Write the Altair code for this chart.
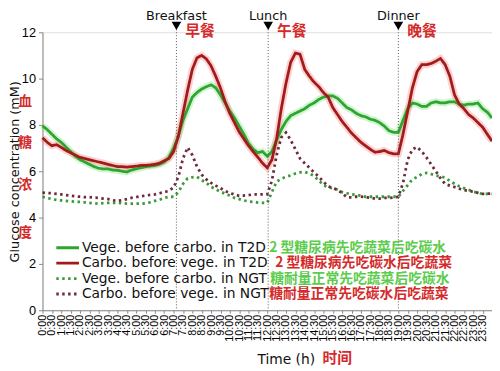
import altair as alt
import pandas as pd

# time grid (hours), every 15 minutes from 0:00 to 24:00
hours = [i * 0.25 for i in range(97)]

veg_t2d = [7.96, 7.8, 7.6, 7.4, 7.25, 7.05, 6.85, 6.65, 6.5, 6.4, 6.3, 6.2,
           6.13, 6.1, 6.1, 6.05, 6.04, 6.0, 5.97, 6.05, 6.1, 6.15, 6.2, 6.22,
           6.25, 6.3, 6.4, 6.6, 7.0, 7.5, 8.2, 8.7, 9.2, 9.4, 9.55, 9.65,
           9.73, 9.6, 9.3, 8.95, 8.6, 8.3, 7.95, 7.6, 7.2, 6.95, 6.8, 6.85,
           6.65, 6.85, 7.35, 7.8, 8.15, 8.4, 8.5, 8.6, 8.7, 8.85, 8.95, 9.1,
           9.2, 9.25, 9.25, 9.15, 8.95, 8.75, 8.65, 8.5, 8.4, 8.35, 8.25, 8.2,
           8.1, 7.95, 7.75, 7.68, 7.68, 8.2, 8.7, 8.95, 8.9, 8.8, 8.8, 8.95,
           9.0, 8.95, 8.95, 9.0, 9.0, 8.9, 8.85, 8.9, 8.9, 8.95, 8.7, 8.55,
           8.3]

carb_t2d = [7.45, 7.25, 7.1, 7.15, 7.03, 6.9, 6.8, 6.7, 6.6, 6.55, 6.5, 6.45,
            6.4, 6.35, 6.3, 6.25, 6.2, 6.2, 6.18, 6.2, 6.22, 6.25, 6.25, 6.27,
            6.3, 6.35, 6.45, 6.55, 6.85, 7.5, 8.5, 9.5, 10.4, 10.9, 11.0, 10.85,
            10.55, 10.1, 9.6, 9.0, 8.5, 8.1, 7.7, 7.4, 7.1, 6.85, 6.6, 6.35,
            6.15, 6.5, 7.4, 8.7, 9.8, 10.7, 11.1, 11.05, 10.4, 10.1, 9.85, 9.65,
            9.4, 9.2, 8.75, 8.45, 8.15, 7.9, 7.65, 7.45, 7.25, 7.1, 6.95, 6.82,
            6.85, 6.9, 6.8, 6.75, 6.75, 7.6, 8.6, 9.6, 10.3, 10.6, 10.6, 10.65,
            10.75, 10.87, 10.6, 10.1, 9.3, 8.9, 8.7, 8.45, 8.3, 8.1, 7.9, 7.6,
            7.3]

veg_ngt = [4.9, 4.85, 4.8, 4.76, 4.74, 4.72, 4.7, 4.68, 4.68, 4.66, 4.64, 4.62,
           4.6, 4.62, 4.64, 4.64, 4.64, 4.62, 4.6, 4.6, 4.6, 4.6, 4.62, 4.66,
           4.72, 4.77, 4.85, 4.9, 4.9, 5.1, 5.45, 5.7, 5.74, 5.76, 5.62, 5.5,
           5.33, 5.22, 5.12, 5.03, 4.95, 4.85, 4.8, 4.74, 4.7, 4.68, 4.65, 4.64,
           4.64, 5.1, 5.55, 5.68, 5.76, 5.82, 5.9, 5.95, 5.97, 5.9, 5.8, 5.6,
           5.4, 5.3, 5.27, 5.2, 5.1, 5.05, 5.0, 4.98, 4.94, 4.9, 4.9, 4.9,
           4.9, 4.9, 4.9, 4.9, 4.9, 5.15, 5.4, 5.65, 5.75, 5.88, 5.93, 5.88,
           5.82, 5.78, 5.72, 5.58, 5.46, 5.35, 5.27, 5.2, 5.12, 5.07, 5.02, 5.02,
           5.02]

carb_ngt = [5.08, 5.06, 5.05, 5.02, 5.0, 4.97, 4.95, 4.92, 4.9, 4.88, 4.88, 4.86,
            4.85, 4.82, 4.8, 4.75, 4.72, 4.75, 4.8, 4.85, 4.88, 4.92, 4.95, 4.98,
            5.0, 5.05, 5.1, 5.15, 5.3, 5.75, 6.55, 7.03, 6.7, 6.2, 5.85, 5.65,
            5.5, 5.38, 5.27, 5.15, 5.06, 5.0, 4.94, 4.95, 4.97, 5.0, 5.0, 5.0,
            5.0, 5.6, 6.7, 7.46, 7.67, 7.35, 6.95, 6.55, 6.35, 6.15, 5.95, 5.76,
            5.55, 5.35, 5.28, 5.2, 5.05, 4.88, 4.87, 4.9, 4.9, 4.88, 4.85, 4.82,
            4.82, 4.85, 4.85, 4.87, 4.9, 5.5, 6.5, 6.95, 7.05, 6.85, 6.6, 6.3,
            6.0, 5.7, 5.45, 5.38, 5.32, 5.25, 5.19, 5.15, 5.12, 5.07, 5.02, 5.03,
            5.04]

series_names = ["Vege. before carbo. in T2D", "Carbo. before vege. in T2D",
                "Vege. before carbo. in NGT", "Carbo. before vege. in NGT"]
series_values = [veg_t2d, carb_t2d, veg_ngt, carb_ngt]
series_colors = ["#2ea52e", "#a01c1c", "#3a9a3a", "#6e2a3a"]
halo_colors = ["#7fe07f", "#ff7a7a", None, None]
series_dash = [[1, 0], [1, 0], [2.5, 3.5], [2.5, 3.5]]
cn_labels = ["2 型糖尿病先吃蔬菜后吃碳水", "2 型糖尿病先吃碳水后吃蔬菜",
             "糖耐量正常先吃蔬菜后吃碳水", "糖耐量正常先吃碳水后吃蔬菜"]
cn_colors = ["#5ccc4c", "#d42a2a", "#5ccc4c", "#d42a2a"]

meals = ["Breakfast", "Lunch", "Dinner"]
meals_cn = ["早餐", "午餐", "晚餐"]
meal_hours = [7.15, 12.05, 19.0]

y_ticks = [0, 2, 4, 6, 8, 10, 12]
x_ticks = [i * 0.5 for i in range(48)]
y_cn = ["血", "糖", "浓", "度"]
y_cn_pos = [9.0, 7.2, 5.4, 3.35]

rows = []
for name, vals in zip(series_names, series_values):
    for h, v in zip(hours, vals):
        rows.append({"hour": h, "glucose": v, "series": name})
df = pd.DataFrame(rows)

W, H = 456, 282
EN = "DejaVu Sans"
CJK = "Noto Sans CJK SC"

x_enc = alt.X("hour:Q", scale=alt.Scale(domain=[0, 24], nice=False, zero=False),
              axis=alt.Axis(values=x_ticks, labelAngle=-90, title=None,
                            labelExpr="floor(datum.value) + ':' + (datum.value % 1 ? '30' : '00')",
                            labelFontSize=11, tickSize=3, labelPadding=1,
                            grid=False, labelFlush=False, labelOverlap=False))
y_enc = alt.Y("glucose:Q", scale=alt.Scale(domain=[0, 12], nice=False),
              axis=alt.Axis(values=y_ticks, title="Glucose concentration (mM)",
                            titleX=-24, titleY=H / 2, titleBaseline="alphabetic",
                            titleFontSize=13, titleFontWeight="normal", titleFont=EN,
                            titleColor="#111", labelFontSize=13, tickSize=4,
                            labelPadding=3, grid=False))

layers = []
# soft halo under the solid curves
for name, hc in zip(series_names, halo_colors):
    if hc is None:
        continue
    layers.append(alt.Chart(df).transform_filter(alt.datum.series == name)
                  .mark_line(strokeWidth=7, opacity=0.35, color=hc)
                  .encode(x=x_enc, y=y_enc))

leg = alt.Legend(title=None, orient="none", legendX=12.5, legendY=211,
                 symbolType="stroke", symbolSize=529, symbolStrokeWidth=3,
                 clipHeight=15, rowPadding=0.7, labelFontSize=14, labelFont=EN,
                 labelColor="#111", labelOffset=1.5, padding=0, labelLimit=400)

lines = alt.Chart(df).mark_line(strokeWidth=2.8).encode(
    x=x_enc, y=y_enc,
    color=alt.Color("series:N", scale=alt.Scale(domain=series_names, range=series_colors),
                    legend=leg, sort=series_names),
    strokeDash=alt.StrokeDash("series:N", scale=alt.Scale(domain=series_names, range=series_dash),
                              legend=leg, sort=series_names),
)
layers.append(lines)

meal_df = pd.DataFrame({"hour": meal_hours, "meal": meals, "cn": meals_cn})
layers.append(alt.Chart(meal_df).mark_rule(color="#555", strokeWidth=1, strokeDash=[1, 2]).encode(
    x=x_enc, y=alt.value(-3), y2=alt.value(H)))
layers.append(alt.Chart(meal_df).mark_point(shape="triangle-down", filled=True, size=95,
                                             color="#000", opacity=1).encode(
    x=x_enc, y=alt.value(-6.5)))
layers.append(alt.Chart(meal_df).mark_text(font=EN, fontSize=13, color="#111",
                                            baseline="top").encode(
    x=x_enc, y=alt.value(-22), text="meal:N"))
layers.append(alt.Chart(meal_df).mark_text(font=CJK, fontSize=15, fontWeight="bold",
                                            color="#d42a2a", align="left", dx=9).encode(
    x=x_enc, y=alt.value(-1.5), text="cn:N"))

ycn_df = pd.DataFrame({"glucose": y_cn_pos, "ch": y_cn})
layers.append(alt.Chart(ycn_df).mark_text(font=CJK, fontSize=14, fontWeight="bold",
                                           color="#d42a2a").encode(
    x=alt.value(-17.5), y=y_enc, text="ch:N"))

cn_x = [230, 236, 231, 230]
cn_y = [218.5, 234.2, 249.9, 265.5]
for txt, col, px, py in zip(cn_labels, cn_colors, cn_x, cn_y):
    layers.append(alt.Chart(pd.DataFrame({"t": [txt]})).mark_text(
        font=CJK, fontSize=14, fontWeight="bold", color=col, align="left").encode(
        x=alt.value(px), y=alt.value(py), text="t:N"))

layers.append(alt.Chart(pd.DataFrame({"t": ["Time (h)"]})).mark_text(
    font=EN, fontSize=14, color="#111", align="left").encode(
    x=alt.value(218), y=alt.value(333), text="t:N"))
layers.append(alt.Chart(pd.DataFrame({"t": ["时间"]})).mark_text(
    font=CJK, fontSize=15, fontWeight="bold", color="#d42a2a", align="left").encode(
    x=alt.value(284), y=alt.value(331), text="t:N"))

chart = alt.layer(*layers).properties(
    width=W, height=H,
    autosize=alt.AutoSizeParams(type="none"),
    padding={"left": 35, "top": 22, "right": 0, "bottom": 59},
).configure_view(stroke=None).configure_axis(
    domainColor="#333", tickColor="#333", labelColor="#222", labelFont=EN,
    domainWidth=1.5,
).configure(background="white")

chart.save("out.html", embed_options={"renderer": "svg", "actions": False})
